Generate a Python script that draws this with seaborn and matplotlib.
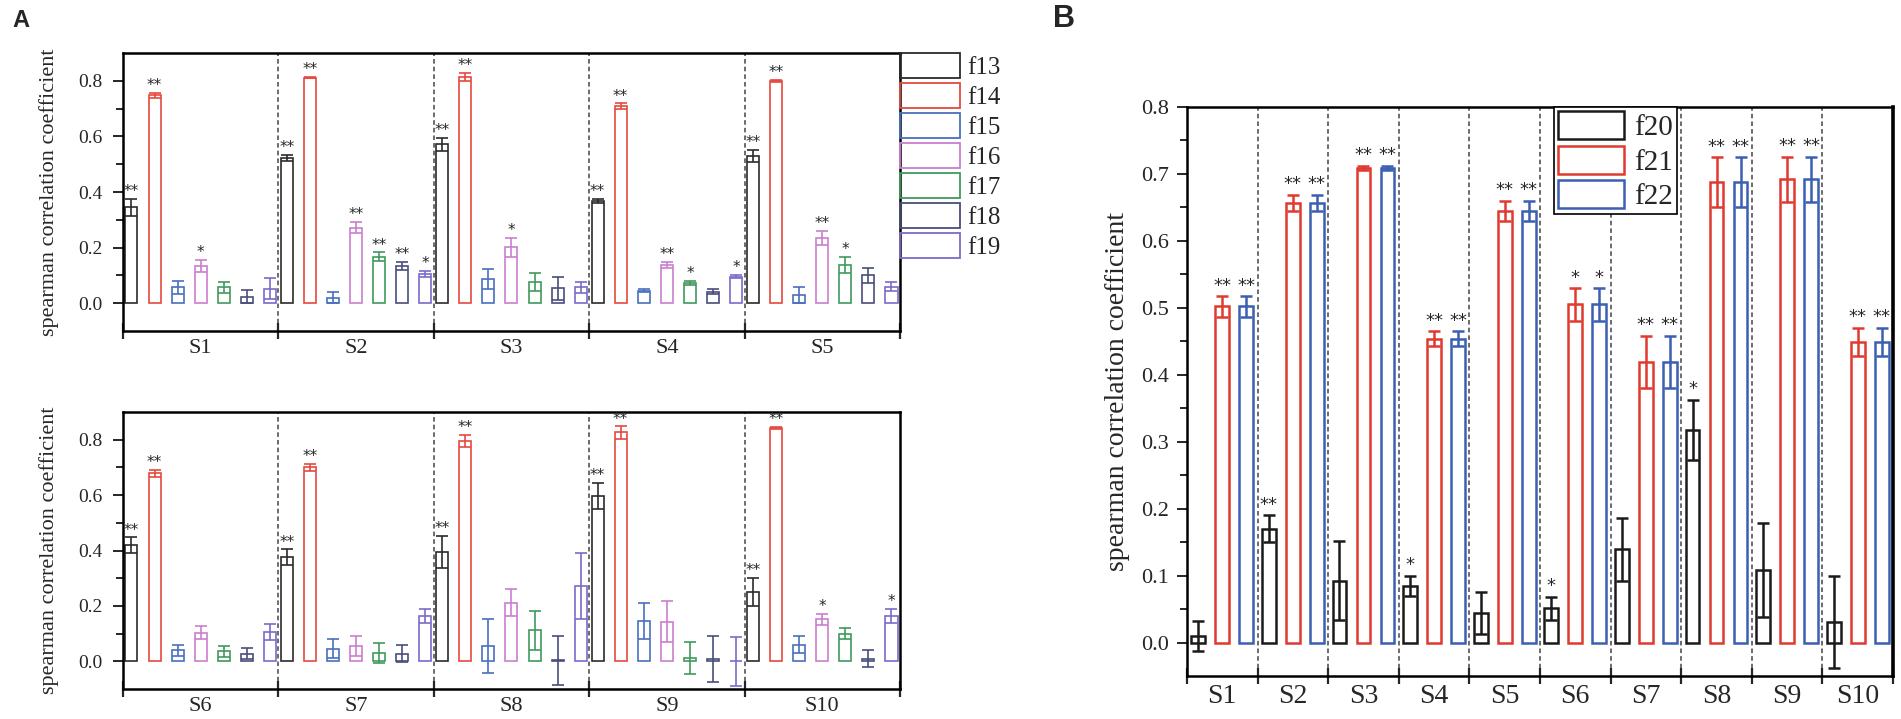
import numpy as np
import pandas as pd
import seaborn as sns
import matplotlib.pyplot as plt
from matplotlib.container import BarContainer
from matplotlib.patches import Patch
from matplotlib.ticker import FixedLocator, FixedFormatter, NullFormatter, FuncFormatter

# --- Data ---

sites = ['S1', 'S2', 'S3', 'S4', 'S5', 'S6', 'S7', 'S8', 'S9', 'S10']

# panel A: features f13..f19
names_a = ['f13', 'f14', 'f15', 'f16', 'f17', 'f18', 'f19']
f13 = [0.345, 0.523, 0.572, 0.369, 0.531, 0.419, 0.375, 0.395, 0.597, 0.250]
f14 = [0.748, 0.812, 0.814, 0.709, 0.800, 0.678, 0.700, 0.795, 0.826, 0.843]
f15 = [0.057, 0.020, 0.086, 0.045, 0.030, 0.040, 0.046, 0.055, 0.146, 0.060]
f16 = [0.134, 0.272, 0.201, 0.137, 0.234, 0.104, 0.055, 0.212, 0.143, 0.151]
f17 = [0.057, 0.167, 0.075, 0.073, 0.137, 0.036, 0.031, 0.112, 0.012, 0.100]
f18 = [0.023, 0.135, 0.053, 0.042, 0.100, 0.028, 0.028, 0.003, 0.007, 0.010]
f19 = [0.052, 0.105, 0.057, 0.095, 0.060, 0.106, 0.164, 0.272, 0.000, 0.165]

f13_err = [0.030, 0.010, 0.024, 0.007, 0.022, 0.028, 0.029, 0.058, 0.047, 0.050]
f14_err = [0.010, 0.003, 0.015, 0.010, 0.004, 0.012, 0.014, 0.022, 0.022, 0.004]
f15_err = [0.023, 0.020, 0.036, 0.005, 0.028, 0.020, 0.034, 0.096, 0.065, 0.030]
f16_err = [0.021, 0.020, 0.033, 0.012, 0.025, 0.024, 0.036, 0.048, 0.074, 0.020]
f17_err = [0.020, 0.016, 0.032, 0.006, 0.030, 0.020, 0.036, 0.070, 0.056, 0.020]
f18_err = [0.023, 0.015, 0.042, 0.008, 0.028, 0.020, 0.032, 0.090, 0.083, 0.030]
f19_err = [0.038, 0.010, 0.020, 0.006, 0.015, 0.030, 0.024, 0.120, 0.088, 0.025]

f13_sig = ['**', '**', '**', '**', '**', '**', '**', '**', '**', '**']
f14_sig = ['**', '**', '**', '**', '**', '**', '**', '**', '**', '**']
f15_sig = ['', '', '', '', '', '', '', '', '', '']
f16_sig = ['*', '**', '*', '**', '**', '', '', '', '', '*']
f17_sig = ['', '**', '', '*', '*', '', '', '', '', '']
f18_sig = ['', '**', '', '', '', '', '', '', '', '']
f19_sig = ['', '*', '', '*', '', '', '', '', '', '*']

# panel B: features f20..f22
names_b = ['f20', 'f21', 'f22']
f20 = [0.010, 0.170, 0.092, 0.085, 0.044, 0.051, 0.139, 0.318, 0.108, 0.031]
f21 = [0.502, 0.657, 0.709, 0.454, 0.645, 0.505, 0.419, 0.688, 0.692, 0.449]
f22 = [0.502, 0.657, 0.709, 0.454, 0.645, 0.505, 0.419, 0.688, 0.692, 0.449]

f20_err = [0.022, 0.020, 0.059, 0.015, 0.032, 0.017, 0.047, 0.045, 0.070, 0.069]
f21_err = [0.015, 0.012, 0.003, 0.011, 0.015, 0.024, 0.039, 0.037, 0.034, 0.021]
f22_err = [0.015, 0.012, 0.003, 0.011, 0.015, 0.024, 0.039, 0.037, 0.034, 0.021]

f20_sig = ['', '**', '', '*', '', '*', '', '*', '', '']
f21_sig = ['**', '**', '**', '**', '**', '*', '**', '**', '**', '**']
f22_sig = ['**', '**', '**', '**', '**', '*', '**', '**', '**', '**']

colors_a = ['#2b2b2b', '#e5493f', '#4a70bd', '#c97ed0', '#3f9a5c', '#4a4e7c', '#7d69cc']
colors_b = ['#1a1a1a', '#e03a30', '#3a5fb3']

# --- Helpers ---


def long_table(site_list, names, series):
  rows = []
  for name, vals in zip(names, series):
    for s, v in zip(site_list, vals):
      rows.append((s, name, v))
  return pd.DataFrame(rows, columns=['site', 'feature', 'value'])


def fmt_tick(v, pos):
  return '%.1f' % (round(v, 2) + 0.0)


def style_axis(ax, site_list, ylim, major, minor, xsize, ysize, ypad, xpad):
  n = len(site_list)
  ax.set_xlim(-0.5, n - 0.5)
  ax.set_ylim(*ylim)
  ax.xaxis.set_major_locator(FixedLocator(np.arange(n + 1) - 0.5))
  ax.xaxis.set_major_formatter(NullFormatter())
  ax.xaxis.set_minor_locator(FixedLocator(np.arange(n)))
  ax.xaxis.set_minor_formatter(FixedFormatter(site_list))
  ax.yaxis.set_major_locator(FixedLocator(major))
  ax.yaxis.set_minor_locator(FixedLocator(minor))
  ax.yaxis.set_major_formatter(FuncFormatter(fmt_tick))
  ax.tick_params(axis='x', which='major', direction='inout', length=11, width=1.6)
  ax.tick_params(axis='x', which='minor', length=0, pad=xpad, labelsize=xsize)
  ax.tick_params(axis='y', which='major', direction='out', length=7, width=1.4,
                 labelsize=ysize, pad=ypad)
  ax.tick_params(axis='y', which='minor', direction='out', length=5, width=1.4)
  for sp in ax.spines.values():
    sp.set_linewidth(1.8)
    sp.set_color('black')
  for b in np.arange(1, n) - 0.5:
    ax.axvline(b, color='#444444', lw=1.1, ls=(0, (3, 2)), zorder=0)
  ax.set_xlabel('')


def grouped_bars(ax, df, site_list, offset, names, palette, errs, sigs,
                 width, gap, lw, cap, star_size, star_off):
  sns.barplot(data=df, x='site', y='value', hue='feature', order=site_list,
              hue_order=names, palette=palette, fill=False, width=width, gap=gap,
              linewidth=lw, errorbar=None, legend=False, ax=ax)
  bars = [c for c in ax.containers if isinstance(c, BarContainer)]
  for j, cont in enumerate(bars):
    name = names[j]
    for bar in cont:
      xc = bar.get_x() + bar.get_width() / 2
      i = offset + int(round(xc))
      h = bar.get_height()
      e = errs[name][i]
      ax.errorbar(xc, h, yerr=e, fmt='none', ecolor=palette[j], elinewidth=lw,
                  capsize=cap, capthick=lw, zorder=3)
      s = sigs[name][i]
      if s:
        ax.annotate(s, (xc, h + e), xytext=(0, star_off), textcoords='offset points',
                    ha='center', va='baseline', fontsize=star_size,
                    family=['DejaVu Sans'])


# --- Plot ---

sns.set_style('ticks')
plt.rcParams['font.family'] = ['Liberation Serif', 'DejaVu Serif']

errs_a = dict(zip(names_a, [f13_err, f14_err, f15_err, f16_err, f17_err, f18_err, f19_err]))
sigs_a = dict(zip(names_a, [f13_sig, f14_sig, f15_sig, f16_sig, f17_sig, f18_sig, f19_sig]))
errs_b = dict(zip(names_b, [f20_err, f21_err, f22_err]))
sigs_b = dict(zip(names_b, [f20_sig, f21_sig, f22_sig]))

series_a = [f13, f14, f15, f16, f17, f18, f19]
top_sites = sites[:5]
bottom_sites = sites[5:]
df_top = long_table(top_sites, names_a, [v[:5] for v in series_a])
df_bottom = long_table(bottom_sites, names_a, [v[5:] for v in series_a])
df_b = long_table(sites, names_b, [f20, f21, f22])

fig = plt.figure(figsize=(19.01, 7.19), dpi=100)
ax_top = fig.add_axes([0.0647, 0.5396, 0.4087, 0.3866])
ax_bot = fig.add_axes([0.0647, 0.0417, 0.4087, 0.3853])
ax_b = fig.add_axes([0.6244, 0.0598, 0.3714, 0.7914])

major_a = [0.0, 0.2, 0.4, 0.6, 0.8]
minor_a = [0.1, 0.3, 0.5, 0.7]
for ax, site_list, df, off in [(ax_top, top_sites, df_top, 0), (ax_bot, bottom_sites, df_bottom, 5)]:
  grouped_bars(ax, df, site_list, off, names_a, colors_a, errs_a, sigs_a,
               width=1.04, gap=0.48, lw=1.2, cap=4.2, star_size=11, star_off=2)
  style_axis(ax, site_list, (-0.1, 0.9), major_a, minor_a, 16, 14, 8, 6)
  ax.set_ylabel('spearman correlation coefficient', fontsize=16)
  ax.yaxis.set_label_coords(-0.083, 0.5)

# legend of panel A sits against the right spine, no frame
handles_a = [Patch(facecolor='none', edgecolor=c, lw=1.3) for c in colors_a]
leg_a = ax_top.legend(handles_a, names_a, loc='upper left', bbox_to_anchor=(1.0, 1.0),
                      borderaxespad=0, fontsize=18, frameon=False,
                      handlelength=2.4, handleheight=1.16,
                      labelspacing=0.16, handletextpad=0.3, borderpad=0)

grouped_bars(ax_b, df_b, sites, 0, names_b, colors_b, errs_b, sigs_b,
             width=1.02, gap=0.42, lw=1.8, cap=4.6, star_size=13, star_off=4)
major_b = [0.0, 0.1, 0.2, 0.3, 0.4, 0.5, 0.6, 0.7, 0.8]
minor_b = [0.05, 0.15, 0.25, 0.35, 0.45, 0.55, 0.65, 0.75]
style_axis(ax_b, sites, (-0.05, 0.8), major_b, minor_b, 20, 16, 6, 6)
ax_b.set_ylabel('spearman correlation coefficient', fontsize=20)
ax_b.yaxis.set_label_coords(-0.081, 0.5)
ax_b.spines['right'].set_linewidth(2.6)

handles_b = [Patch(facecolor='none', edgecolor=c, lw=1.8) for c in colors_b]
leg_b = ax_b.legend(handles_b, names_b, loc='upper left', bbox_to_anchor=(0.52, 1.0),
                    borderaxespad=0, fontsize=21, frameon=True, fancybox=False,
                    edgecolor='black', framealpha=1, handlelength=2.24, handleheight=1.1,
                    labelspacing=0.15, handletextpad=0.35, borderpad=0.15)
leg_b.get_frame().set_linewidth(1.2)

fig.text(12 / 1901, 1 - 9 / 719, 'A', fontsize=17, fontweight='bold', va='top', ha='left',
         family=['Liberation Sans', 'DejaVu Sans'])
fig.text(1053 / 1901, 1 - 4 / 719, 'B', fontsize=22, fontweight='bold', va='top', ha='left',
         family=['Liberation Sans', 'DejaVu Sans'])

fig.savefig('out.png', dpi=100)
